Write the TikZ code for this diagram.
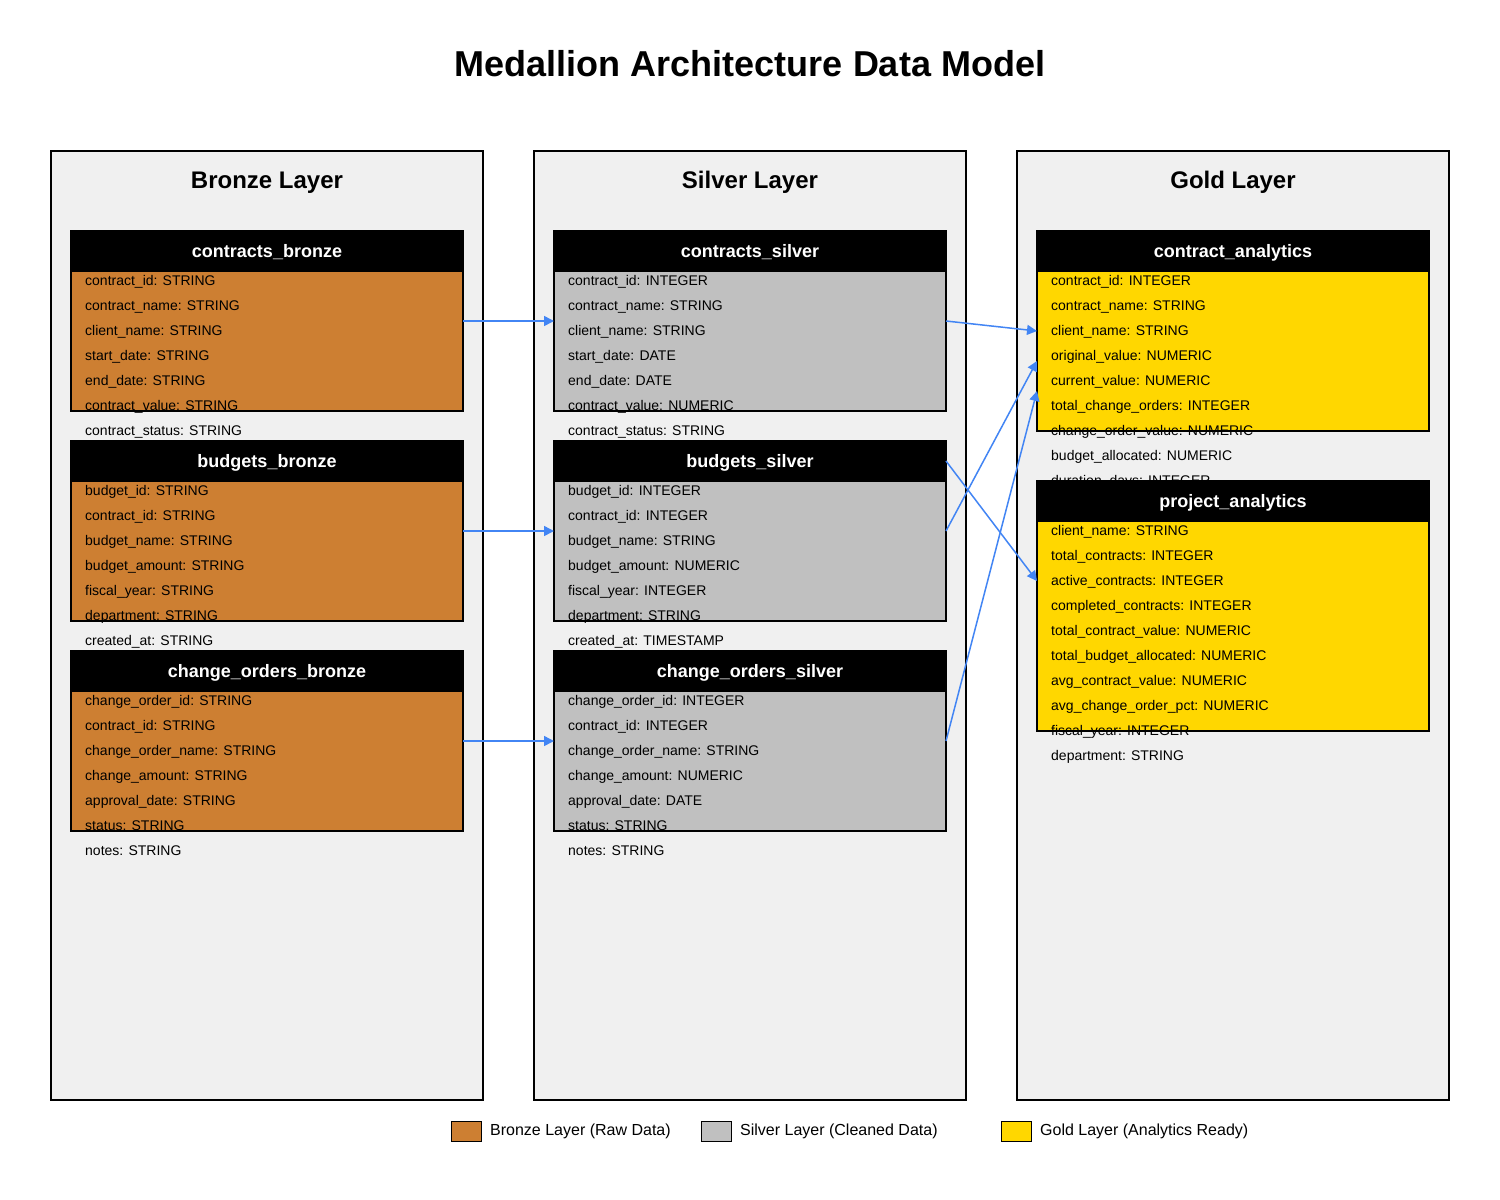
\documentclass[tikz,border=0pt]{standalone}
\usepackage{fontspec}
\setmainfont{Liberation Sans}
\usetikzlibrary{positioning, arrows.meta}

\definecolor{bronze}{HTML}{CD7F32}
\definecolor{silver}{HTML}{C0C0C0}
\definecolor{gold}{HTML}{FFD700}
\definecolor{panelgray}{HTML}{F0F0F0}
\definecolor{flowblue}{HTML}{4285F4}

\begin{document}
\begin{tikzpicture}[
               x = 1pt, y = -1pt,
   node distance = 0pt and 9pt,
     panel/.style = {rectangle, draw, line width=2pt, fill=panelgray, anchor=north west,
                     minimum width=432pt, minimum height=949pt, outer sep=0pt},
    ltitle/.style = {anchor=base, inner sep=0pt, font=\fontsize{24pt}{28pt}\selectfont\bfseries},
      head/.style = {rectangle, draw, line width=2pt, fill=black, text=white, anchor=north west,
                     minimum width=392pt, minimum height=40pt, outer sep=0pt, inner sep=0pt,
                     text height=13pt, text depth=0pt,
                     font=\fontsize{18pt}{20pt}\selectfont\bfseries},
       tbl/.style = {rectangle, draw, line width=2pt, fill=#1, minimum width=392pt, outer sep=0pt},
     field/.style = {anchor=base west, inner sep=0pt, font=\fontsize{14pt}{16pt}\selectfont},
      flow/.style = {draw=flowblue, line width=1.5pt, -{Triangle[length=10pt,width=10pt]}},
    swatch/.style = {rectangle, draw, line width=1pt, fill=#1, anchor=north west,
                     minimum width=30pt, minimum height=20pt, outer sep=0pt},
    legend/.style = {anchor=west, inner sep=0pt, font=\fontsize{16pt}{18pt}\selectfont}
                        ]
\useasboundingbox[fill=white] (0,0) rectangle (1500,1200);

\node (title) [anchor=base, font=\fontsize{36pt}{40pt}\selectfont\bfseries] at (750,76)
      {Medallion Architecture Data Model};

% layers
\node (bl) [panel] at (51,151) {};
\node (sl) [panel] at (534,151) {};
\node (gl) [panel] at (1017,151) {};
\node (bl-title) [ltitle] at ([yshift=-37pt]bl.north) {Bronze Layer};
\node (sl-title) [ltitle] at ([yshift=-37pt]sl.north) {Silver Layer};
\node (gl-title) [ltitle] at ([yshift=-37pt]gl.north) {Gold Layer};

% bronze tables
\node (cb) [head] at (71,231) {contracts\_bronze};
\node (cb-body) [tbl=bronze, minimum height=140pt, below=of cb] {};
\foreach \f [count=\i] in {contract\_id: STRING, contract\_name: STRING, client\_name: STRING,
    start\_date: STRING, end\_date: STRING, contract\_value: STRING, contract\_status: STRING}
  \node (cb-\i) [field] at ([shift={(14,25*\i-11)}]cb-body.north west) {\f};

\node (bb) [head] at (71,441) {budgets\_bronze};
\node (bb-body) [tbl=bronze, minimum height=140pt, below=of bb] {};
\foreach \f [count=\i] in {budget\_id: STRING, contract\_id: STRING, budget\_name: STRING,
    budget\_amount: STRING, fiscal\_year: STRING, department: STRING, created\_at: STRING}
  \node (bb-\i) [field] at ([shift={(14,25*\i-11)}]bb-body.north west) {\f};

\node (chb) [head] at (71,651) {change\_orders\_bronze};
\node (chb-body) [tbl=bronze, minimum height=140pt, below=of chb] {};
\foreach \f [count=\i] in {change\_order\_id: STRING, contract\_id: STRING, change\_order\_name: STRING,
    change\_amount: STRING, approval\_date: STRING, status: STRING, notes: STRING}
  \node (chb-\i) [field] at ([shift={(14,25*\i-11)}]chb-body.north west) {\f};

% silver tables
\node (cs) [head] at (554,231) {contracts\_silver};
\node (cs-body) [tbl=silver, minimum height=140pt, below=of cs] {};
\foreach \f [count=\i] in {contract\_id: INTEGER, contract\_name: STRING, client\_name: STRING,
    start\_date: DATE, end\_date: DATE, contract\_value: NUMERIC, contract\_status: STRING}
  \node (cs-\i) [field] at ([shift={(14,25*\i-11)}]cs-body.north west) {\f};

\node (bs) [head] at (554,441) {budgets\_silver};
\node (bs-body) [tbl=silver, minimum height=140pt, below=of bs] {};
\foreach \f [count=\i] in {budget\_id: INTEGER, contract\_id: INTEGER, budget\_name: STRING,
    budget\_amount: NUMERIC, fiscal\_year: INTEGER, department: STRING, created\_at: TIMESTAMP}
  \node (bs-\i) [field] at ([shift={(14,25*\i-11)}]bs-body.north west) {\f};

\node (chs) [head] at (554,651) {change\_orders\_silver};
\node (chs-body) [tbl=silver, minimum height=140pt, below=of chs] {};
\foreach \f [count=\i] in {change\_order\_id: INTEGER, contract\_id: INTEGER, change\_order\_name: STRING,
    change\_amount: NUMERIC, approval\_date: DATE, status: STRING, notes: STRING}
  \node (chs-\i) [field] at ([shift={(14,25*\i-11)}]chs-body.north west) {\f};

% gold tables
\node (ca) [head] at (1037,231) {contract\_analytics};
\node (ca-body) [tbl=gold, minimum height=160pt, below=of ca] {};
\foreach \f [count=\i] in {contract\_id: INTEGER, contract\_name: STRING, client\_name: STRING,
    original\_value: NUMERIC, current\_value: NUMERIC, total\_change\_orders: INTEGER,
    change\_order\_value: NUMERIC, budget\_allocated: NUMERIC, duration\_days: INTEGER}
  \node (ca-\i) [field] at ([shift={(14,25*\i-11)}]ca-body.north west) {\f};

\node (pa) [head] at (1037,481) {project\_analytics};
\node (pa-body) [tbl=gold, minimum height=210pt, below=of pa] {};
\foreach \f [count=\i] in {client\_name: STRING, total\_contracts: INTEGER, active\_contracts: INTEGER,
    completed\_contracts: INTEGER, total\_contract\_value: NUMERIC, total\_budget\_allocated: NUMERIC,
    avg\_contract\_value: NUMERIC, avg\_change\_order\_pct: NUMERIC, fiscal\_year: INTEGER,
    department: STRING}
  \node (pa-\i) [field] at ([shift={(14,25*\i-11)}]pa-body.north west) {\f};

% data flow
\draw[flow] ([yshift=20pt]cb-body.east) -- ([yshift=20pt]cs-body.west);
\draw[flow] ([yshift=20pt]bb-body.east) -- ([yshift=20pt]bs-body.west);
\draw[flow] ([yshift=20pt]chb-body.east) -- ([yshift=20pt]chs-body.west);
\draw[flow] ([yshift=20pt]cs-body.east) -- ([yshift=20pt]ca-body.west);
\draw[flow] ([yshift=20pt]bs-body.east) -- ([yshift=-10pt]ca-body.west);
\draw[flow] ([yshift=20pt]chs-body.east) -- ([yshift=-40pt]ca-body.west);
\draw[flow] (bs.east) -- ([yshift=45pt]pa-body.west);

% legend
\node (lg-b) [swatch=bronze] at (451,1121) {};
\node (lg-b-text) [legend, right=of lg-b] {Bronze Layer (Raw Data)};
\node (lg-s) [swatch=silver] at (701,1121) {};
\node (lg-s-text) [legend, right=of lg-s] {Silver Layer (Cleaned Data)};
\node (lg-g) [swatch=gold] at (1001,1121) {};
\node (lg-g-text) [legend, right=of lg-g] {Gold Layer (Analytics Ready)};
\end{tikzpicture}
\end{document}
